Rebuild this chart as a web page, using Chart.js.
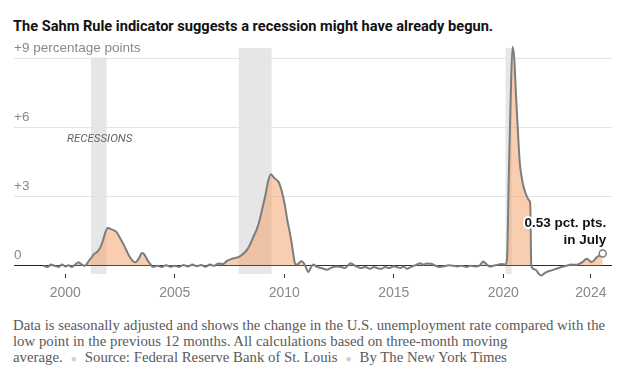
<!DOCTYPE html>
<html>
<head>
<meta charset="utf-8">
<script src="https://cdn.jsdelivr.net/npm/chart.js@4/dist/chart.umd.min.js"></script>
<style>
  body { margin: 0; background: #fff; width: 628px; height: 385px; position: relative; overflow: hidden; }
  #title { position: absolute; left: 13px; top: 17px; font: bold 14.6px "Liberation Sans Narrow", "Roboto", sans-serif; color: #121212; line-height: 18px; white-space: nowrap; }
  #wrap { position: absolute; left: 0; top: 0; width: 628px; height: 310px; }
  #note { position: absolute; left: 13px; top: 317px; width: 612px; font: 14.8px "Liberation Serif", serif; color: #5a5a5a; line-height: 16px; white-space: nowrap; }
  .dot { color: #cfcfcf; font-size: 10px; margin: 0 8px; }
</style>
</head>
<body>
<div id="title">The Sahm Rule indicator suggests a recession might have already begun.</div>
<div id="wrap"><canvas id="chart" width="628" height="310"></canvas></div>
<div id="note">Data is seasonally adjusted and shows the change in the U.S. unemployment rate compared with the<br>low point in the previous 12 months. All calculations based on three-month moving<br>average.<span class="dot">&#9679;</span>Source: Federal Reserve Bank of St. Louis<span class="dot">&#9679;</span>By The New York Times</div>
<script>
// decimal years and Sahm rule values
const years = [
  1999.0, 1999.2, 1999.35, 1999.5, 1999.7, 1999.85, 2000.0, 2000.15, 2000.3, 2000.45, 2000.6, 2000.75, 2000.9,
  2001.0, 2001.1, 2001.2, 2001.3, 2001.45, 2001.6, 2001.72, 2001.85, 2001.94, 2002.05, 2002.2, 2002.35, 2002.5,
  2002.65, 2002.8, 2002.95, 2003.1, 2003.2, 2003.35, 2003.5, 2003.6, 2003.75, 2003.9, 2004.0, 2004.2, 2004.4,
  2004.6, 2004.8, 2005.0, 2005.2, 2005.4, 2005.6, 2005.8, 2006.0, 2006.2, 2006.4, 2006.6, 2006.8, 2007.0, 2007.2,
  2007.4, 2007.6, 2007.8, 2007.95, 2008.1, 2008.28, 2008.45, 2008.58, 2008.75, 2008.89, 2009.0, 2009.12, 2009.27,
  2009.39, 2009.5, 2009.62, 2009.76, 2009.85, 2009.95, 2010.05, 2010.14, 2010.25, 2010.34, 2010.42, 2010.5,
  2010.6, 2010.7, 2010.8, 2010.9, 2011.0, 2011.1, 2011.2, 2011.32, 2011.5, 2011.7, 2011.94, 2012.15, 2012.39,
  2012.6, 2012.77, 2013.03, 2013.15, 2013.3, 2013.5, 2013.7, 2013.91, 2014.1, 2014.3, 2014.45, 2014.6, 2014.8,
  2015.0, 2015.13, 2015.3, 2015.45, 2015.59, 2015.8, 2016.0, 2016.2, 2016.35, 2016.5, 2016.73, 2016.9, 2017.1,
  2017.26, 2017.5, 2017.72, 2017.9, 2018.1, 2018.33, 2018.5, 2018.7, 2018.9, 2019.08, 2019.2, 2019.38, 2019.55,
  2019.75, 2019.92, 2020.08, 2020.17, 2020.25, 2020.33, 2020.42, 2020.5, 2020.58, 2020.67, 2020.75, 2020.83,
  2020.92, 2021.0, 2021.08, 2021.17, 2021.23, 2021.28, 2021.4, 2021.51, 2021.62, 2021.74, 2021.85, 2021.97,
  2022.2, 2022.43, 2022.65, 2022.89, 2023.1, 2023.35, 2023.6, 2023.81, 2024.04, 2024.27, 2024.4, 2024.54
];
const sahm = [
  0.0, -0.05, 0.05, 0.0, -0.05, 0.05, -0.03, 0.02, -0.05, 0.05, 0.15, 0.05, 0.0,
  0.1, 0.25, 0.35, 0.5, 0.6, 0.8, 1.1, 1.5, 1.65, 1.6, 1.55, 1.45, 1.2,
  0.95, 0.65, 0.37, 0.2, 0.15, 0.3, 0.55, 0.5, 0.25, 0.05, -0.05, 0.0, -0.05,
  0.02, -0.04, 0.0, -0.05, 0.03, -0.03, 0.05, -0.02, 0.03, -0.04, 0.05, 0.0, 0.1, 0.08,
  0.22, 0.3, 0.35, 0.4, 0.5, 0.67, 0.95, 1.24, 1.6, 2.04, 2.5, 2.98, 3.7,
  3.97, 3.85, 3.75, 3.6, 3.35, 2.98, 2.5, 1.97, 1.45, 0.96, 0.45, 0.08,
  0.05, 0.15, 0.2, 0.1, -0.1, -0.28, -0.1, 0.05, -0.05, -0.1, -0.17, -0.08, -0.03,
  -0.05, -0.1, 0.11, 0.05, -0.03, -0.1, -0.05, -0.13, -0.05, -0.12, -0.13, -0.05, -0.1,
  -0.02, -0.05, -0.1, -0.03, -0.13, -0.05, 0.03, 0.11, 0.05, 0.1, 0.09, 0.0, -0.05,
  -0.03, 0.02, 0.0, -0.03, 0.0, -0.05, 0.0, -0.03, 0.0, 0.18, 0.1, -0.03, 0.0,
  0.05, 0.08, 0.05, 0.3, 3.8, 7.0, 9.5, 9.0, 7.4, 5.8, 4.5, 3.9,
  3.45, 3.2, 3.0, 2.85, 2.7, 0.0, -0.15, -0.2, -0.35, -0.42, -0.35, -0.28,
  -0.2, -0.13, -0.05, 0.0, 0.05, 0.04, 0.15, 0.3, 0.16, 0.37, 0.45, 0.53
];

const recessionStart = [2001.17, 2007.92, 2020.1];
const recessionEnd = [2001.88, 2009.42, 2020.38];

const xTickYears = [2000, 2005, 2010, 2015, 2020, 2024];
const yTickValues = [0, 3, 6, 9];
const yTickLabels = ['0', '+3', '+6', '+9 percentage points'];

const lastLabel = ['0.53 pct. pts.', 'in July'];

const lineColor = '#7d7d7d';

// grey recession bands behind everything
const recessionBands = {
  id: 'recessionBands',
  beforeDraw(chart) {
    const { ctx, chartArea } = chart;
    const x = chart.scales.x;
    ctx.save();
    ctx.fillStyle = '#e6e6e6';
    for (let i = 0; i < recessionStart.length; i++) {
      const x1 = x.getPixelForValue(recessionStart[i]);
      const x2 = x.getPixelForValue(recessionEnd[i]);
      ctx.fillRect(x1, chartArea.top, x2 - x1, chartArea.bottom - chartArea.top);
    }
    ctx.restore();
  }
};

// text labels on the plot
const labels = {
  id: 'labels',
  afterDatasetsDraw(chart) {
    const { ctx } = chart;
    const x = chart.scales.x;
    const y = chart.scales.y;
    ctx.save();
    ctx.font = 'italic 11.5px "Liberation Sans Narrow", "Roboto", sans-serif';
    ctx.fillStyle = '#666';
    ctx.textBaseline = 'middle';
    ctx.fillText('RECESSIONS', x.getPixelForValue(2000.08), y.getPixelForValue(5.5));

    const n = years.length - 1;
    const px = x.getPixelForValue(years[n]) + 3.5;
    const py = y.getPixelForValue(sahm[n]);
    ctx.font = 'bold 13.5px "Liberation Sans", sans-serif';
    ctx.textAlign = 'right';
    ctx.lineJoin = 'round';
    ctx.strokeStyle = '#fff';
    ctx.lineWidth = 4;
    ctx.fillStyle = '#121212';
    ctx.strokeText(lastLabel[0], px, py - 30.5);
    ctx.fillText(lastLabel[0], px, py - 30.5);
    ctx.strokeText(lastLabel[1], px, py - 13);
    ctx.fillText(lastLabel[1], px, py - 13);
    ctx.restore();
  }
};

new Chart(document.getElementById('chart'), {
  type: 'line',
  data: {
    datasets: [{
      data: years.map((yr, i) => ({ x: yr, y: sahm[i] })),
      borderColor: lineColor,
      borderWidth: 2,
      cubicInterpolationMode: 'monotone',
      fill: { target: 'origin', above: 'rgba(242,155,97,0.5)', below: 'rgba(0,0,0,0)' },
      pointRadius: years.map((yr, i) => i === years.length - 1 ? 3.5 : 0),
      pointBackgroundColor: '#fff',
      pointBorderColor: lineColor,
      pointBorderWidth: 1.5,
      clip: false
    }]
  },
  options: {
    responsive: false,
    animation: false,
    devicePixelRatio: 1,
    layout: { padding: { top: 48, left: 14, right: 16, bottom: 1.2 } },
    plugins: { legend: { display: false }, tooltip: { enabled: false } },
    scales: {
      x: {
        type: 'linear',
        min: 1997.658,
        max: 2024.964,
        afterBuildTicks: (axis) => { axis.ticks = xTickYears.map(v => ({ value: v })); },
        grid: { drawOnChartArea: false, drawTicks: true, tickLength: 4, color: '#333' },
        border: { display: false },
        ticks: {
          callback: (v) => String(v),
          color: '#888',
          font: { family: '"Liberation Sans", sans-serif', size: 14 },
          padding: 7,
          maxRotation: 0
        }
      },
      y: {
        min: -0.357,
        max: 9.448,
        afterBuildTicks: (axis) => { axis.ticks = yTickValues.map(v => ({ value: v })); },
        grid: {
          drawTicks: false,
          color: (c) => c.tick && c.tick.value === 0 ? '#222' : '#e3e3e3'
        },
        border: { display: false },
        ticks: {
          mirror: true,
          padding: 0,
          labelOffset: -10,
          color: '#888',
          font: { family: '"Liberation Sans", sans-serif', size: 13.5 },
          showLabelBackdrop: true,
          backdropColor: '#fff',
          backdropPadding: { left: 0, right: 2, top: 1, bottom: 1 },
          callback: (v) => yTickLabels[yTickValues.indexOf(v)]
        }
      }
    }
  },
  plugins: [recessionBands, labels]
});
</script>
</body>
</html>
